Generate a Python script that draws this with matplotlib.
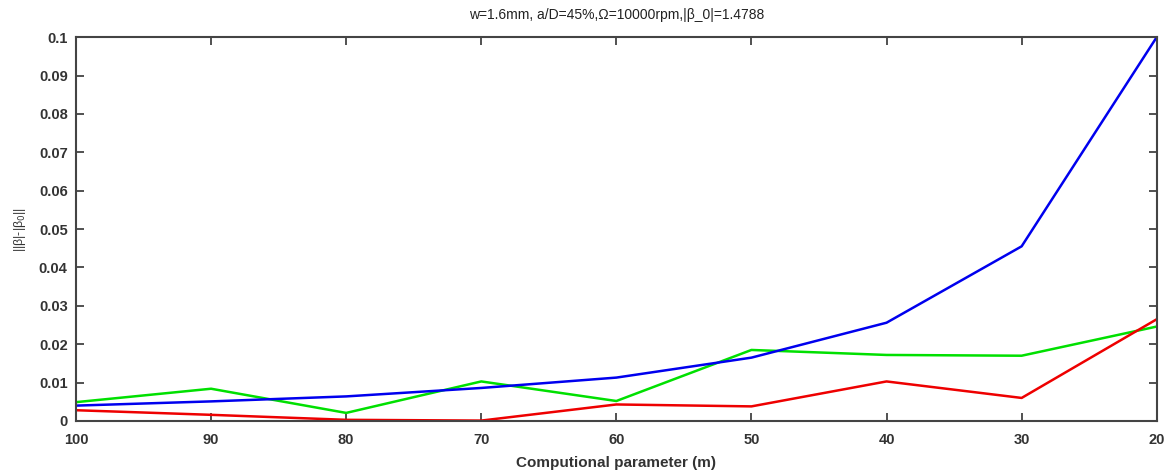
import matplotlib
matplotlib.use('Agg')
import matplotlib.pyplot as plt

plt.rcParams['font.family'] = ['Liberation Sans', 'DejaVu Sans']

# computational parameter values (m) and the three error curves
params = [100, 90, 80, 70, 60, 50, 40, 30, 20]
err_blue = [0.0040, 0.0051, 0.0064, 0.0086, 0.0113, 0.0165, 0.0256, 0.0455, 0.1000]
err_green = [0.0049, 0.0084, 0.0021, 0.0103, 0.0052, 0.0185, 0.0172, 0.0170, 0.0246]
err_red = [0.0028, 0.0016, 0.0003, 0.0001, 0.0043, 0.0038, 0.0103, 0.0060, 0.0265]

fig = plt.figure(figsize=(11.69, 4.73), dpi=100)
ax = fig.add_axes([0.065, 0.11, 0.9245, 0.8115])

ax.plot(params, err_green, color='#00e000', lw=1.8)
ax.plot(params, err_red, color='#ee0000', lw=1.8)
ax.plot(params, err_blue, color='#0000ee', lw=1.8)

ax.set_xlim(100, 20)
ax.set_ylim(0, 0.1)
ax.set_xticks(range(100, 19, -10))
ax.set_yticks([i / 100 for i in range(11)])
ax.set_yticklabels(['0'] + ['0.%02d' % i for i in range(1, 10)] + ['0.1'])

ax.tick_params(direction='in', top=True, right=True, length=6, width=1.2,
               labelsize=10.5, colors='#333333')
ax.tick_params(axis='x', pad=9)
ax.tick_params(axis='y', pad=6)
for lbl in ax.get_xticklabels() + ax.get_yticklabels():
    lbl.set_fontweight('bold')
for sp in ax.spines.values():
    sp.set_linewidth(1.5)
    sp.set_color('#444444')

ax.set_xlabel('Computional parameter (m)', fontsize=11, fontweight='bold', color='#333333', labelpad=6)
ax.set_ylabel(r'||β|-|β$_0$||', fontsize=9, color='#333333', labelpad=8)
ax.set_title('w=1.6mm, a/D=45%,Ω=10000rpm,|β_0|=1.4788', fontsize=10, color='#222222', pad=13)

fig.savefig('out.png', dpi=100)
